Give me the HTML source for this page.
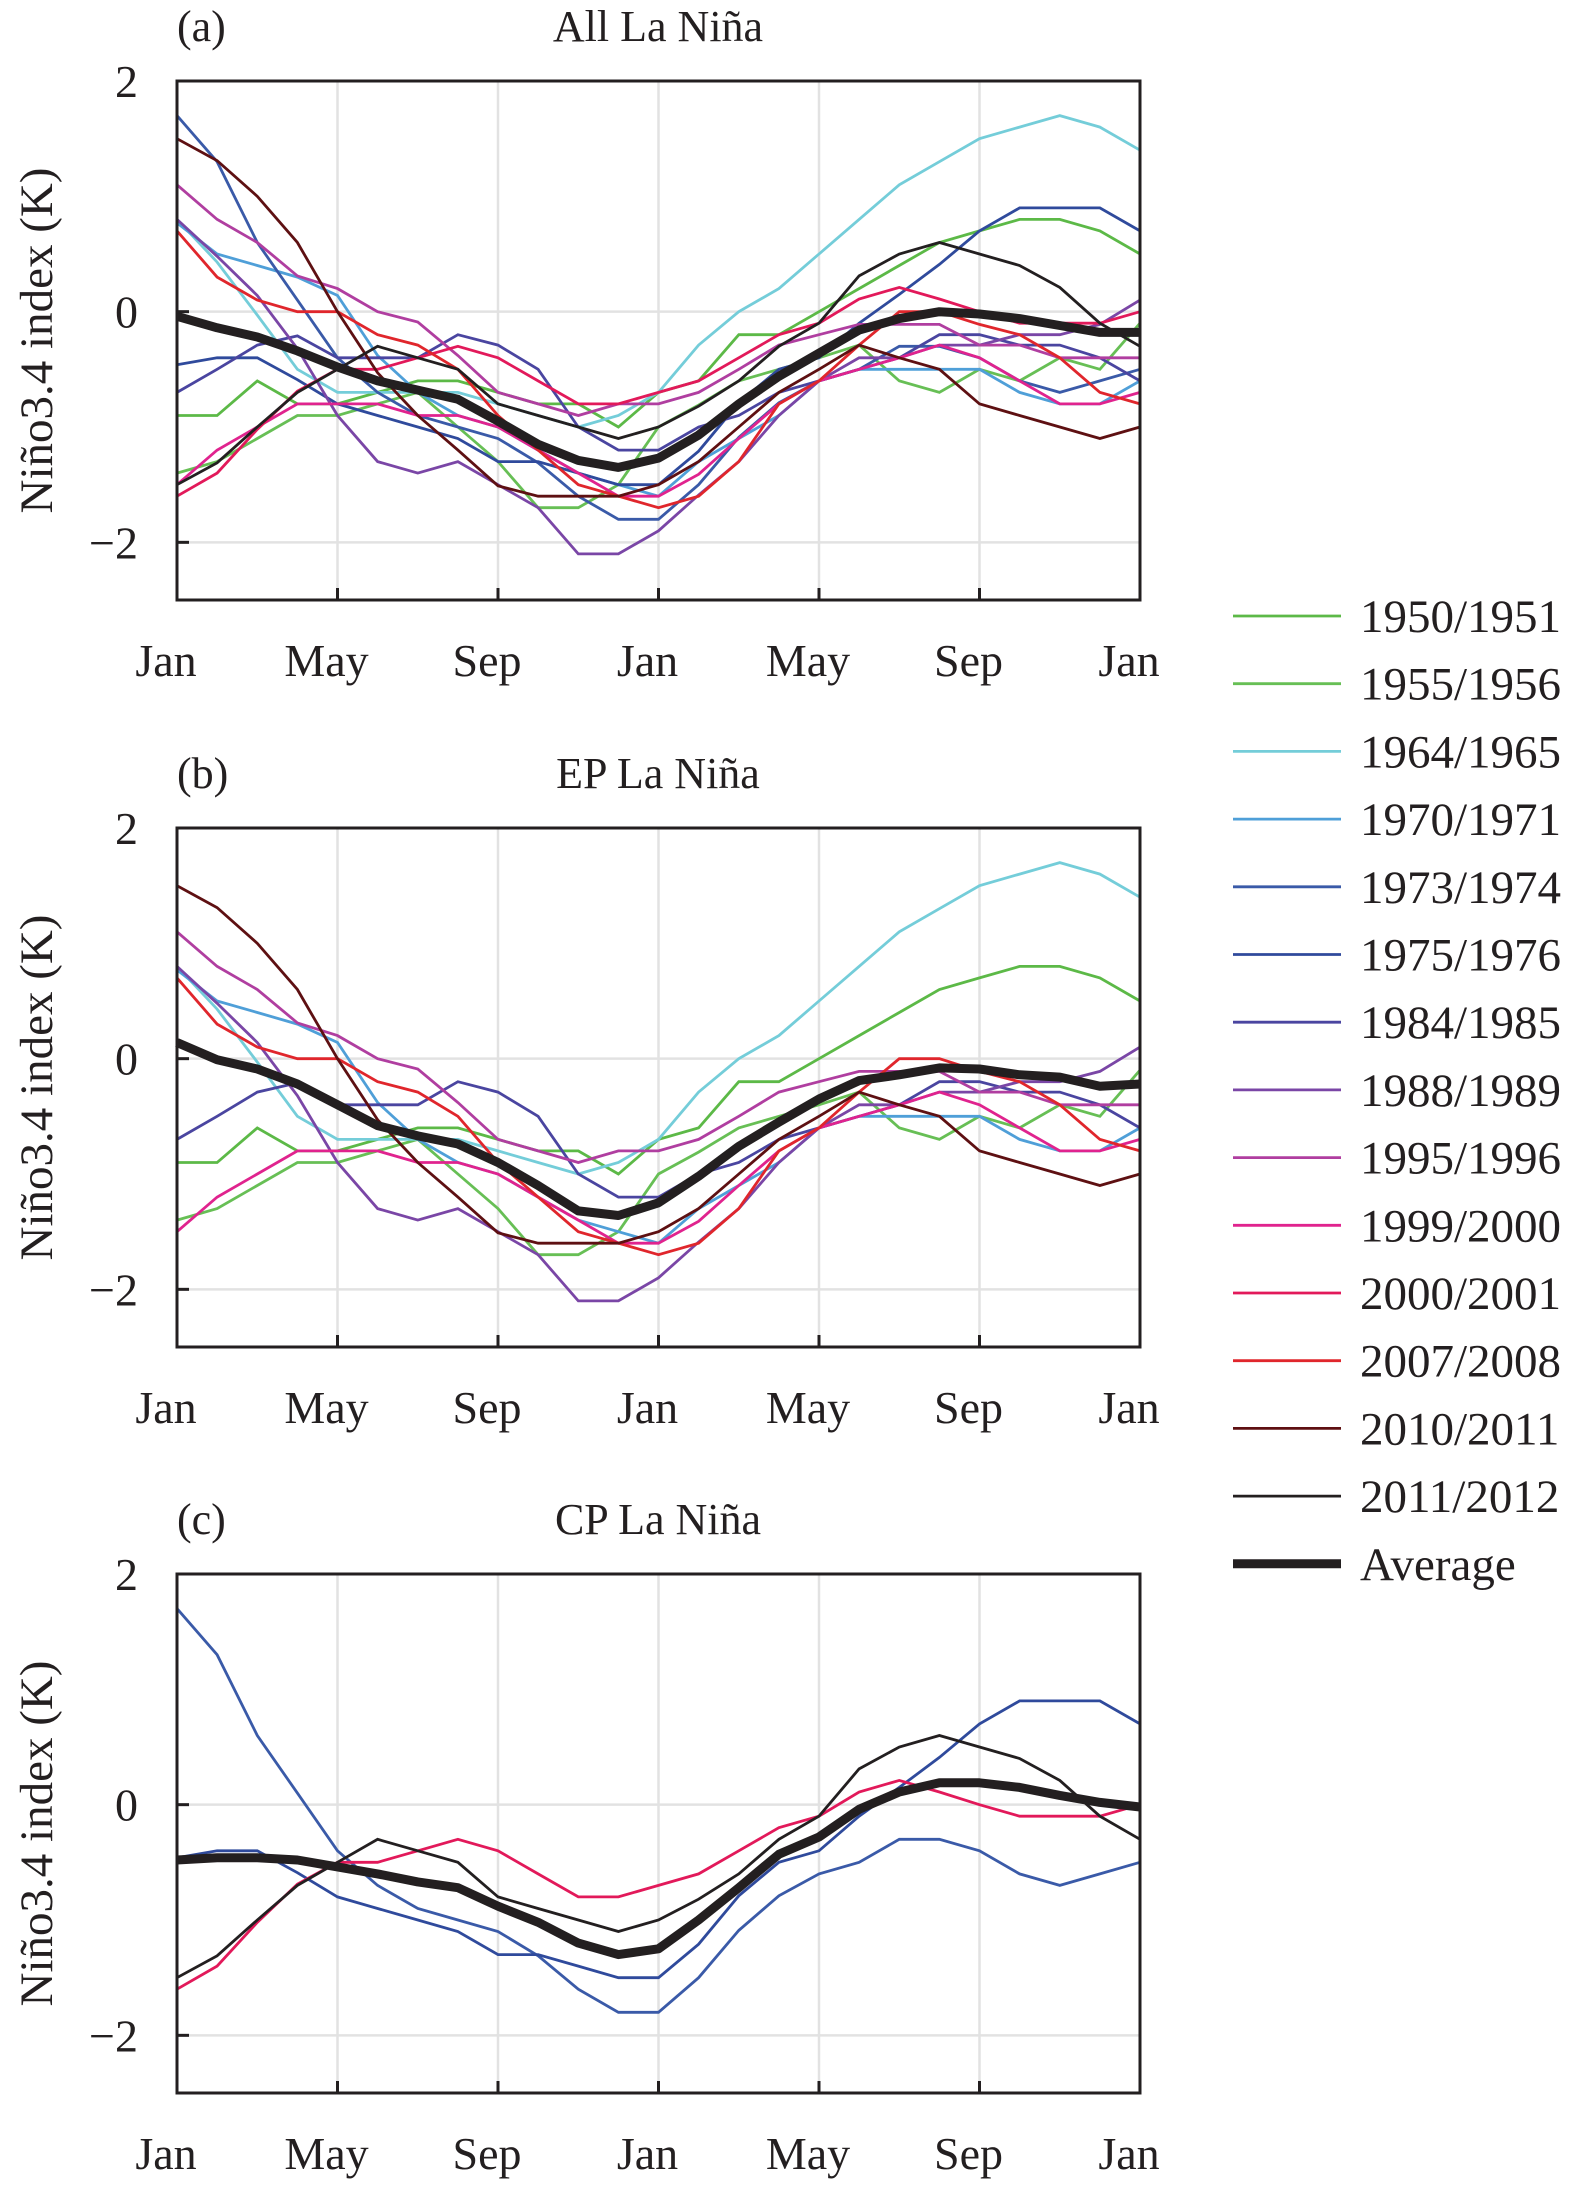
<!DOCTYPE html>
<html><head><meta charset="utf-8">
<style>
html,body{margin:0;padding:0;background:#fff;}
svg{display:block;font-family:"Liberation Serif",serif;}
</style></head>
<body>
<svg id="chart" width="1575" height="2185" viewBox="0 0 1575 2185" xmlns="http://www.w3.org/2000/svg"></svg>
<script>
const monthLabels = ["Jan","May","Sep","Jan","May","Sep","Jan"];
const yTicks = [2, 0, -2];
const seriesNames = ["1950/1951","1955/1956","1964/1965","1970/1971","1973/1974","1975/1976","1984/1985","1988/1989","1995/1996","1999/2000","2000/2001","2007/2008","2010/2011","2011/2012"];
const s1950 = [-0.9,-0.9,-0.6,-0.8,-0.8,-0.7,-0.6,-0.6,-0.7,-0.8,-0.8,-1.0,-0.7,-0.6,-0.2,-0.2,0.0,0.2,0.4,0.6,0.7,0.8,0.8,0.7,0.5];
const s1955 = [-1.4,-1.3,-1.1,-0.9,-0.9,-0.8,-0.7,-1.0,-1.3,-1.7,-1.7,-1.5,-1.0,-0.81,-0.6,-0.5,-0.4,-0.29,-0.6,-0.7,-0.5,-0.6,-0.4,-0.5,-0.1];
const s1964 = [0.8,0.43,-0.03,-0.5,-0.7,-0.7,-0.7,-0.7,-0.8,-0.9,-1.0,-0.9,-0.7,-0.29,0.0,0.2,0.5,0.8,1.1,1.3,1.5,1.6,1.7,1.6,1.4];
const s1970 = [0.77,0.5,0.4,0.3,0.14,-0.38,-0.7,-0.9,-1.0,-1.2,-1.4,-1.5,-1.6,-1.3,-1.1,-0.9,-0.6,-0.5,-0.5,-0.5,-0.5,-0.7,-0.8,-0.8,-0.6];
const s1973 = [1.7,1.3,0.6,0.1,-0.4,-0.7,-0.9,-1.0,-1.1,-1.31,-1.6,-1.8,-1.8,-1.5,-1.09,-0.79,-0.6,-0.5,-0.3,-0.3,-0.4,-0.6,-0.7,-0.6,-0.5];
const s1975 = [-0.46,-0.4,-0.4,-0.59,-0.8,-0.9,-1.0,-1.1,-1.3,-1.3,-1.4,-1.5,-1.5,-1.21,-0.79,-0.5,-0.4,-0.1,0.15,0.41,0.7,0.9,0.9,0.9,0.7];
const s1984 = [-0.7,-0.5,-0.29,-0.21,-0.4,-0.4,-0.4,-0.2,-0.29,-0.5,-1.0,-1.2,-1.2,-1.0,-0.9,-0.7,-0.6,-0.5,-0.4,-0.2,-0.2,-0.29,-0.29,-0.4,-0.6];
const s1988 = [0.8,0.48,0.14,-0.32,-0.9,-1.3,-1.4,-1.3,-1.5,-1.7,-2.1,-2.1,-1.9,-1.59,-1.3,-0.9,-0.6,-0.4,-0.4,-0.29,-0.29,-0.2,-0.2,-0.11,0.1];
const s1995 = [1.1,0.8,0.6,0.31,0.2,0.0,-0.09,-0.38,-0.7,-0.8,-0.9,-0.8,-0.8,-0.7,-0.5,-0.29,-0.2,-0.11,-0.11,-0.11,-0.29,-0.29,-0.4,-0.4,-0.4];
const s1999 = [-1.5,-1.2,-1.0,-0.8,-0.8,-0.8,-0.9,-0.9,-1.0,-1.2,-1.4,-1.6,-1.6,-1.41,-1.1,-0.8,-0.6,-0.5,-0.4,-0.29,-0.4,-0.6,-0.8,-0.8,-0.7];
const s2000 = [-1.6,-1.4,-1.02,-0.69,-0.5,-0.5,-0.4,-0.3,-0.4,-0.6,-0.8,-0.8,-0.7,-0.6,-0.4,-0.2,-0.1,0.11,0.21,0.11,0.0,-0.1,-0.1,-0.1,0.0];
const s2007 = [0.7,0.3,0.1,0.0,0.0,-0.2,-0.29,-0.5,-0.9,-1.2,-1.5,-1.6,-1.7,-1.6,-1.3,-0.8,-0.6,-0.29,0.0,0.0,-0.11,-0.2,-0.4,-0.7,-0.8];
const s2010 = [1.5,1.31,1.0,0.6,0.0,-0.53,-0.9,-1.2,-1.51,-1.6,-1.6,-1.6,-1.5,-1.3,-1.0,-0.7,-0.5,-0.29,-0.4,-0.5,-0.8,-0.9,-1.0,-1.1,-1.0];
const s2011 = [-1.5,-1.31,-1.0,-0.7,-0.5,-0.3,-0.4,-0.5,-0.8,-0.9,-1.0,-1.1,-1.0,-0.82,-0.6,-0.3,-0.1,0.31,0.5,0.6,0.5,0.4,0.21,-0.1,-0.3];
const avgAll = [-0.04,-0.14,-0.22,-0.34,-0.48,-0.6,-0.68,-0.76,-0.95,-1.15,-1.29,-1.35,-1.27,-1.07,-0.8,-0.56,-0.36,-0.16,-0.06,0.0,-0.02,-0.06,-0.12,-0.18,-0.18];
const avgEP = [0.14,-0.01,-0.09,-0.22,-0.4,-0.58,-0.67,-0.74,-0.9,-1.1,-1.32,-1.36,-1.25,-1.02,-0.76,-0.55,-0.35,-0.19,-0.14,-0.08,-0.09,-0.14,-0.16,-0.24,-0.22];
const avgCP = [-0.48,-0.46,-0.46,-0.48,-0.54,-0.6,-0.67,-0.72,-0.88,-1.02,-1.2,-1.3,-1.25,-1.0,-0.72,-0.43,-0.28,-0.04,0.11,0.19,0.19,0.15,0.08,0.02,-0.02];
const seriesValues = [s1950,s1955,s1964,s1970,s1973,s1975,s1984,s1988,s1995,s1999,s2000,s2007,s2010,s2011];
const seriesColors = ["#5cb947","#67bf55","#74cdd9","#4f9fd8","#3a5aa8","#2f4a9c","#4a45a0","#7a46a6","#b03ea0","#e0238e","#e2195a","#e0262c","#5e1012","#231f20"];
const epIdx = [0,1,2,3,6,7,8,9,11,12];
const cpIdx = [4,5,10,13];

const NS = "http://www.w3.org/2000/svg";
const svg = document.getElementById("chart");
function mk(tag, attrs, parent){ const e=document.createElementNS(NS,tag); for(const k in attrs) e.setAttribute(k,attrs[k]); (parent||svg).appendChild(e); return e; }

const X0 = 177, X1 = 1140, YMAX = 2, YMIN = -2.5, PH = 519;
function xs(m){ return X0 + (X1 - X0) * m / 24; }

const panels = [
  {key:"a", top:81, label:"(a)", title:"All La Niña", idx:[0,1,2,3,4,5,6,7,8,9,10,11,12,13], avg:avgAll},
  {key:"b", top:828, label:"(b)", title:"EP La Niña", idx:epIdx, avg:avgEP},
  {key:"c", top:1574, label:"(c)", title:"CP La Niña", idx:cpIdx, avg:avgCP}
];

panels.forEach(p => {
  const g = mk("g", {});
  
  
  const ys = v => p.top + (YMAX - v) / (YMAX - YMIN) * PH;
  const bottom = p.top + PH;
  // grid
  [4,8,12,16,20].forEach(m => {
    const l = mk("line", {x1:xs(m), x2:xs(m), y1:p.top, y2:bottom, stroke:"#e2e2e2", "stroke-width":2.5}, g);
    
    
  });
  yTicks.forEach(v => {
    const l = mk("line", {x1:X0, x2:X1, y1:ys(v), y2:ys(v), stroke:"#e2e2e2", "stroke-width":2.5}, g);
    
    
  });
  // series
  p.idx.forEach(i => {
    const d = seriesValues[i].map((v,m) => (m?"L":"M") + xs(m).toFixed(1) + "," + ys(v).toFixed(1)).join("");
    const path = mk("path", {d:d, fill:"none", stroke:seriesColors[i], "stroke-width":2.8, "stroke-linejoin":"miter"}, g);
    
    
  });
  const ad = p.avg.map((v,m) => (m?"L":"M") + xs(m).toFixed(1) + "," + ys(v).toFixed(1)).join("");
  const ap = mk("path", {d:ad, fill:"none", stroke:"#231f20", "stroke-width":9, "stroke-linejoin":"round"}, g);
  
  
  // frame
  const fr = mk("rect", {x:X0, y:p.top, width:X1-X0, height:PH, fill:"none", stroke:"#231f20", "stroke-width":3}, g);
  
  
  // y ticks & labels
  yTicks.forEach(v => {
    const t = mk("line", {x1:X0, x2:X0+12, y1:ys(v), y2:ys(v), stroke:"#231f20", "stroke-width":3}, g);
    
    
    const tx = mk("text", {x:138, y:ys(v)+16, "text-anchor":"end", "font-size":46, fill:"#231f20"}, g);
    tx.textContent = v < 0 ? "\u2212" + Math.abs(v) : String(v);
    
    
  });
  // x ticks & labels
  monthLabels.forEach((lab, k) => {
    const m = k * 4;
    const t = mk("line", {x1:xs(m), x2:xs(m), y1:bottom, y2:bottom-12, stroke:"#231f20", "stroke-width":3}, g);
    
    
    const tx = mk("text", {x:xs(m)-11, y:bottom+76, "text-anchor":"middle", "font-size":46, fill:"#231f20"}, g);
    tx.textContent = lab;
    
    
  });
  const pl = mk("text", {x:177, y:p.top-40, "font-size":44, fill:"#231f20"}, g);
  pl.textContent = p.label;
  
  
  const tt = mk("text", {x:658, y:p.top-40, "text-anchor":"middle", "font-size":44, fill:"#231f20"}, g);
  tt.textContent = p.title;
  
  
  const cy = p.top + PH/2;
  const yt = mk("text", {x:0, y:0, transform:"translate(52," + cy + ") rotate(-90)", "text-anchor":"middle", "font-size":47, fill:"#231f20"}, g);
  yt.textContent = "Niño3.4 index (K)";
  
  
});

// legend
const lg = mk("g", {});


const legendLabels = seriesNames.concat(["Average"]);
legendLabels.forEach((name, i) => {
  const y = 616 + i * 67.7;
  const isAvg = i === seriesNames.length;
  const l = mk("line", {x1:1233, x2:1341, y1:y, y2:y, stroke:isAvg ? "#231f20" : seriesColors[i], "stroke-width":isAvg ? 9 : 2.8}, lg);
  
  
  const t = mk("text", {x:1360, y:y+16, "font-size":47, fill:"#231f20"}, lg);
  t.textContent = name;
  
  
});
</script>
</body></html>
